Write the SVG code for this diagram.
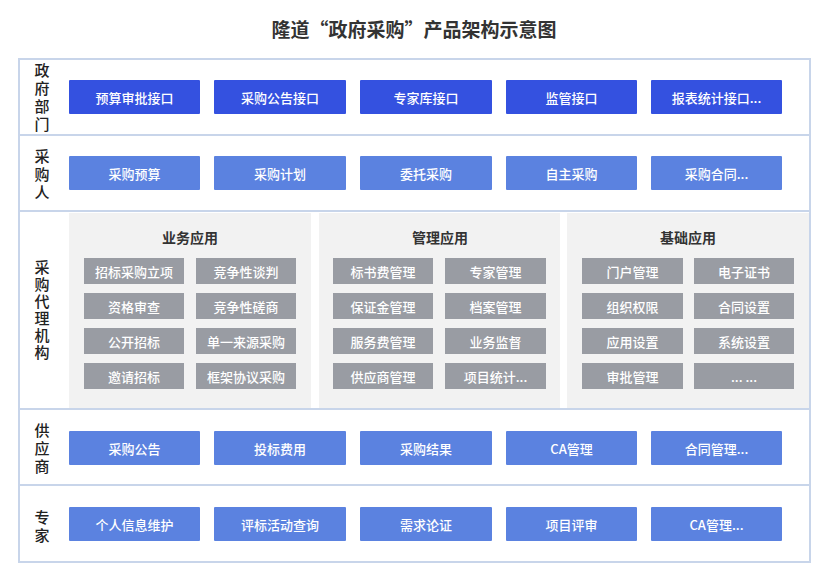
<svg xmlns="http://www.w3.org/2000/svg" width="828" height="587" viewBox="0 0 828 587">
<style>
text{font-family:"Noto Sans CJK SC","Noto Sans",sans-serif;}
.title{font-size:19px;font-weight:bold;fill:#333;text-anchor:middle;}
.lbl{font-size:15px;font-weight:500;fill:#222;text-anchor:middle;writing-mode:vertical-rl;letter-spacing:3px;}
.frame{fill:#fff;stroke:#C8D5EA;stroke-width:2;}
.div{stroke:#C8D5EA;stroke-width:2;}
.b1{fill:#3451E0;}
.b2{fill:#5B82E0;}
.bt{font-size:13px;font-weight:500;fill:#fff;text-anchor:middle;dominant-baseline:central;}
.panel{fill:#F2F2F2;}
.pt{font-size:14px;font-weight:bold;fill:#333;text-anchor:middle;dominant-baseline:central;}
.g{fill:#999CA3;}
</style>
<text class="title" x="414" y="37">隆道“政府采购”产品架构示意图</text>
<rect class="frame" x="19" y="59" width="791" height="503"/>
<g id="connectors">
<line class="div" x1="19" y1="135" x2="810" y2="135"/>
<line class="div" x1="19" y1="211" x2="810" y2="211"/>
<line class="div" x1="19" y1="409" x2="810" y2="409"/>
<line class="div" x1="19" y1="485" x2="810" y2="485"/>
</g>
<g id="labels">
<text class="lbl" x="42" y="98.5">政府部门</text>
<text class="lbl" x="42" y="175.5">采购人</text>
<text class="lbl" x="42" y="310.5" style="letter-spacing:2px">采购代理机构</text>
<text class="lbl" x="42" y="449.5">供应商</text>
<text class="lbl" x="42" y="527.5">专家</text>
</g>
<g id="gov">
<g id="g1"><rect class="b1" x="69" y="80" width="131" height="34" rx="1"/><text class="bt" x="134.5" y="97">预算审批接口</text></g>
<g id="g2"><rect class="b1" x="214" y="80" width="132" height="34" rx="1"/><text class="bt" x="280" y="97">采购公告接口</text></g>
<g id="g3"><rect class="b1" x="360" y="80" width="132" height="34" rx="1"/><text class="bt" x="426" y="97">专家库接口</text></g>
<g id="g4"><rect class="b1" x="506" y="80" width="131" height="34" rx="1"/><text class="bt" x="571.5" y="97">监管接口</text></g>
<g id="g5"><rect class="b1" x="651" y="80" width="131" height="34" rx="1"/><text class="bt" x="716.5" y="97">报表统计接口...</text></g>
</g>
<g id="buyer">
<g id="p1"><rect class="b2" x="69" y="156" width="131" height="34" rx="1"/><text class="bt" x="134.5" y="173">采购预算</text></g>
<g id="p2"><rect class="b2" x="214" y="156" width="132" height="34" rx="1"/><text class="bt" x="280" y="173">采购计划</text></g>
<g id="p3"><rect class="b2" x="360" y="156" width="132" height="34" rx="1"/><text class="bt" x="426" y="173">委托采购</text></g>
<g id="p4"><rect class="b2" x="506" y="156" width="131" height="34" rx="1"/><text class="bt" x="571.5" y="173">自主采购</text></g>
<g id="p5"><rect class="b2" x="651" y="156" width="131" height="34" rx="1"/><text class="bt" x="716.5" y="173">采购合同...</text></g>
</g>
<g id="agency">
<g id="panel-biz">
<rect class="panel" x="69" y="213" width="242" height="195"/>
<text class="pt" x="190" y="237">业务应用</text>
<rect class="g" x="84" y="258" width="100" height="26"/><text class="bt" x="134" y="271">招标采购立项</text>
<rect class="g" x="196" y="258" width="100" height="26"/><text class="bt" x="246" y="271">竞争性谈判</text>
<rect class="g" x="84" y="293" width="100" height="26"/><text class="bt" x="134" y="306">资格审查</text>
<rect class="g" x="196" y="293" width="100" height="26"/><text class="bt" x="246" y="306">竞争性磋商</text>
<rect class="g" x="84" y="328" width="100" height="26"/><text class="bt" x="134" y="341">公开招标</text>
<rect class="g" x="196" y="328" width="100" height="26"/><text class="bt" x="246" y="341">单一来源采购</text>
<rect class="g" x="84" y="363" width="100" height="26"/><text class="bt" x="134" y="376">邀请招标</text>
<rect class="g" x="196" y="363" width="100" height="26"/><text class="bt" x="246" y="376">框架协议采购</text>
</g>
<g id="panel-mgmt">
<rect class="panel" x="319" y="213" width="241" height="195"/>
<text class="pt" x="440" y="237">管理应用</text>
<rect class="g" x="333" y="258" width="100" height="26"/><text class="bt" x="383" y="271">标书费管理</text>
<rect class="g" x="445" y="258" width="101" height="26"/><text class="bt" x="495.5" y="271">专家管理</text>
<rect class="g" x="333" y="293" width="100" height="26"/><text class="bt" x="383" y="306">保证金管理</text>
<rect class="g" x="445" y="293" width="101" height="26"/><text class="bt" x="495.5" y="306">档案管理</text>
<rect class="g" x="333" y="328" width="100" height="26"/><text class="bt" x="383" y="341">服务费管理</text>
<rect class="g" x="445" y="328" width="101" height="26"/><text class="bt" x="495.5" y="341">业务监督</text>
<rect class="g" x="333" y="363" width="100" height="26"/><text class="bt" x="383" y="376">供应商管理</text>
<rect class="g" x="445" y="363" width="101" height="26"/><text class="bt" x="495.5" y="376">项目统计...</text>
</g>
<g id="panel-base">
<rect class="panel" x="567" y="213" width="242" height="195"/>
<text class="pt" x="688" y="237">基础应用</text>
<rect class="g" x="582" y="258" width="101" height="26"/><text class="bt" x="632.5" y="271">门户管理</text>
<rect class="g" x="694" y="258" width="100" height="26"/><text class="bt" x="744" y="271">电子证书</text>
<rect class="g" x="582" y="293" width="101" height="26"/><text class="bt" x="632.5" y="306">组织权限</text>
<rect class="g" x="694" y="293" width="100" height="26"/><text class="bt" x="744" y="306">合同设置</text>
<rect class="g" x="582" y="328" width="101" height="26"/><text class="bt" x="632.5" y="341">应用设置</text>
<rect class="g" x="694" y="328" width="100" height="26"/><text class="bt" x="744" y="341">系统设置</text>
<rect class="g" x="582" y="363" width="101" height="26"/><text class="bt" x="632.5" y="376">审批管理</text>
<rect class="g" x="694" y="363" width="100" height="26"/><text class="bt" x="744" y="376">... ...</text>
</g>
</g>
<g id="supplier">
<g id="s1"><rect class="b2" x="69" y="431" width="131" height="34" rx="1"/><text class="bt" x="134.5" y="448">采购公告</text></g>
<g id="s2"><rect class="b2" x="214" y="431" width="132" height="34" rx="1"/><text class="bt" x="280" y="448">投标费用</text></g>
<g id="s3"><rect class="b2" x="360" y="431" width="132" height="34" rx="1"/><text class="bt" x="426" y="448">采购结果</text></g>
<g id="s4"><rect class="b2" x="506" y="431" width="131" height="34" rx="1"/><text class="bt" x="571.5" y="448">CA管理</text></g>
<g id="s5"><rect class="b2" x="651" y="431" width="131" height="34" rx="1"/><text class="bt" x="716.5" y="448">合同管理...</text></g>
</g>
<g id="expert">
<g id="e1"><rect class="b2" x="69" y="507" width="131" height="34" rx="1"/><text class="bt" x="134.5" y="524">个人信息维护</text></g>
<g id="e2"><rect class="b2" x="214" y="507" width="132" height="34" rx="1"/><text class="bt" x="280" y="524">评标活动查询</text></g>
<g id="e3"><rect class="b2" x="360" y="507" width="132" height="34" rx="1"/><text class="bt" x="426" y="524">需求论证</text></g>
<g id="e4"><rect class="b2" x="506" y="507" width="131" height="34" rx="1"/><text class="bt" x="571.5" y="524">项目评审</text></g>
<g id="e5"><rect class="b2" x="651" y="507" width="131" height="34" rx="1"/><text class="bt" x="716.5" y="524">CA管理...</text></g>
</g>
</svg>
